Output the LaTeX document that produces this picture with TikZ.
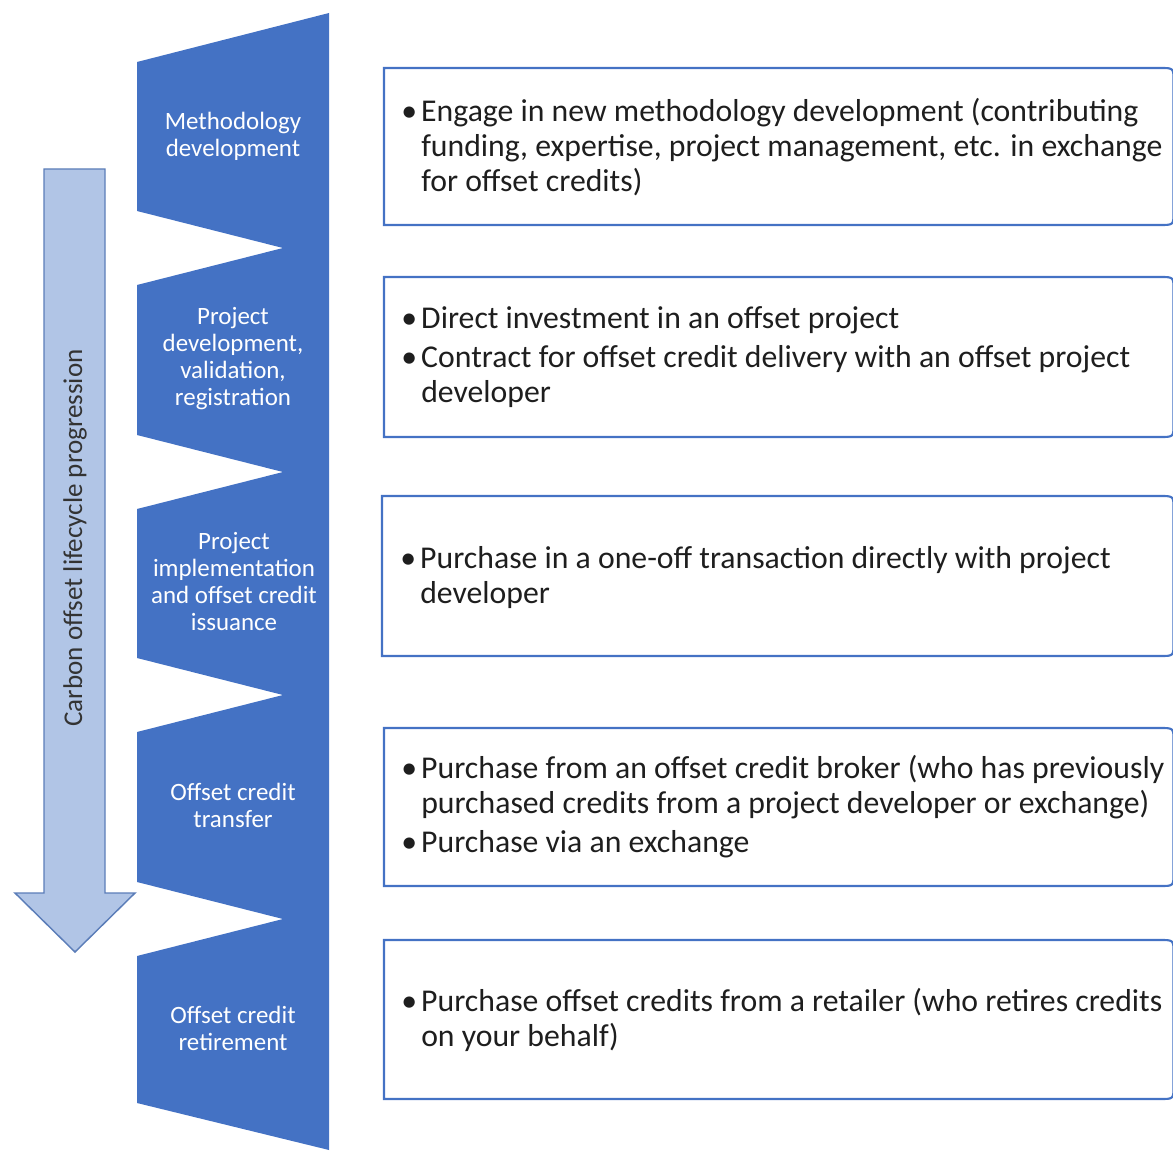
\documentclass[tikz,border=0pt]{standalone}
\usepackage{fontspec}
\setmainfont{Carlito}
\definecolor{offblue}{HTML}{4472C4}
\definecolor{arrowfill}{HTML}{B1C5E6}
\definecolor{arrowline}{HTML}{5B7DB8}
\definecolor{bodytext}{HTML}{1E1E1E}
\newcommand\bul{\makebox[14.25pt][l]{\hspace{-0.6pt}\textbullet}}
\tikzset{
  stagetext/.style={text=white, align=center, font=\fontsize{18.7}{20.25}\selectfont, inner sep=0pt},
  boxline/.style={draw=offblue, line width=1.6pt},
  itemtext/.style={anchor=west, text=bodytext, inner sep=0pt, font=\fontsize{23.8}{26.25}\selectfont},
  sidetext/.style={text=black!80, rotate=90, font=\fontsize{20.3}{22}\selectfont, inner sep=0pt}
}
\begin{document}
\begin{tikzpicture}[x=0.75pt, y=-0.75pt]
\useasboundingbox (0,0) rectangle (1173,1151);
% blue stage column
\fill[offblue] (137,62) -- (329,13) -- (329,1150) -- (137,1103)
  -- (137,956) -- (283,919) -- (137,882)
  -- (137,732) -- (283,695) -- (137,658)
  -- (137,509) -- (283,472) -- (137,435)
  -- (137,285) -- (283,248) -- (137,211) -- cycle;
\node[stagetext] (s1) at (233,136) {Methodology\\development};
\node[stagetext] (s2) at (233,358.5) {Project\\development,\\validation,\\registration};
\node[stagetext] (s3) at (234,582) {Project\\implementation\\and offset credit\\issuance};
\node[stagetext] (s4) at (233,805) {Offset credit\\transfer};
\node[stagetext] (s5) at (233,1028) {Offset credit\\retirement};
% progression arrow
\draw[fill=arrowfill, draw=arrowline, line width=1.1pt, line join=miter]
  (44,169) -- (105,169) -- (105,893) -- (135,893) -- (75,952) -- (15,893) -- (44,893) -- cycle;
\node[sidetext] (lbl) at (75,538) {Carbon offset lifecycle progression};
% boxes
\foreach \l/\t/\b in {384/68/225, 384/277/437, 382/496/656, 384/728/886, 384/940/1099}{
  \draw[boxline] (\l,\t) -- (1160,\t) .. controls (1173.5,\t) .. (1173.5,\t+13)
    -- (1173.5,\b-13) .. controls (1173.5,\b) .. (1160,\b) -- (\l,\b) -- cycle;
}
\node[itemtext] (t1) at (402,149.5) {\begin{tabular}{@{}l@{}l@{}}
\bul & Engage in new methodology development (contributing\\
 & funding, expertise, project management, etc. in exchange\\
 & for offset credits)
\end{tabular}};
\node[itemtext] (t2) at (402,359) {\begin{tabular}{@{}l@{}l@{}}
\bul & Direct investment in an offset project\\[3pt]
\bul & Contract for offset credit delivery with an offset project\\
 & developer
\end{tabular}};
\node[itemtext] (t3) at (401,579) {\begin{tabular}{@{}l@{}l@{}}
\bul & Purchase in a one-off transaction directly with project\\
 & developer
\end{tabular}};
\node[itemtext] (t4) at (402,808) {\begin{tabular}{@{}l@{}l@{}}
\bul & Purchase from an offset credit broker (who has previously\\
 & purchased credits from a project developer or exchange)\\[3pt]
\bul & Purchase via an exchange
\end{tabular}};
\node[itemtext] (t5) at (402,1022) {\begin{tabular}{@{}l@{}l@{}}
\bul & Purchase offset credits from a retailer (who retires credits\\
 & on your behalf)
\end{tabular}};
\end{tikzpicture}
\end{document}
